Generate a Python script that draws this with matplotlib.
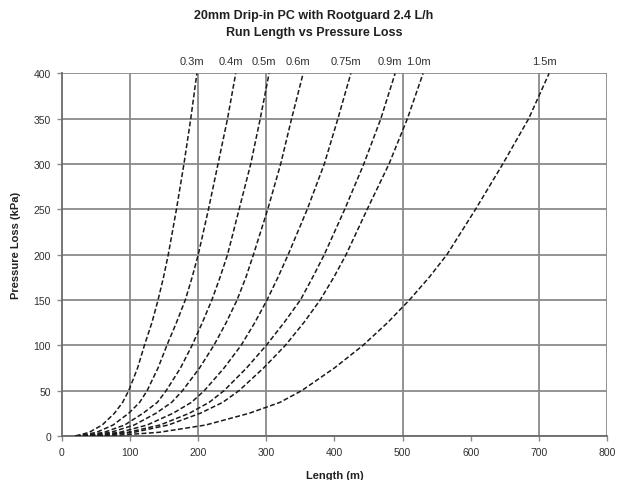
import matplotlib
matplotlib.use("Agg")
import matplotlib.pyplot as plt

plt.rcParams['font.family'] = ['Liberation Sans', 'DejaVu Sans']

# pressure loss levels (kPa), shared by all curves
pressure = [0, 1, 4, 12, 25, 37, 50, 75, 100, 125, 150, 175, 200, 250, 300, 350, 400]

# run length (m) at each pressure level, one list per emitter spacing
len_03 = [20, 26, 40, 59, 77, 89, 98, 111, 121, 132, 141, 149, 156, 168, 179, 189, 198]
len_04 = [20, 32, 51, 75, 98, 114, 125, 141, 154, 168, 181, 191, 200, 215, 229, 243, 255]
len_05 = [20, 38, 62, 92, 119, 140, 153, 174, 191, 206, 220, 232, 243, 260, 277, 291, 304]
len_06 = [20, 44, 72, 106, 138, 161, 177, 202, 223, 241, 257, 270, 281, 302, 321, 337, 354]
len_075 = [20, 52, 85, 125, 163, 190, 209, 238, 263, 283, 301, 317, 332, 360, 385, 405, 424]
len_09 = [20, 59, 97, 144, 187, 216, 238, 271, 300, 326, 350, 368, 385, 415, 443, 468, 489]
len_10 = [20, 64, 106, 156, 203, 236, 260, 296, 328, 355, 379, 399, 417, 448, 480, 507, 530]
len_15 = [20, 87, 143, 211, 275, 320, 352, 400, 442, 478, 510, 539, 565, 607, 647, 685, 715]

spacings = ['0.3m', '0.4m', '0.5m', '0.6m', '0.75m', '0.9m', '1.0m', '1.5m']
lengths = [len_03, len_04, len_05, len_06, len_075, len_09, len_10, len_15]

x_ticks = [0, 100, 200, 300, 400, 500, 600, 700, 800]
y_ticks = [0, 50, 100, 150, 200, 250, 300, 350, 400]
x_grid = [100, 200, 300, 500, 700, 800]

grid_col = '#8a8a8a'
txt_col = '#303030'

fig = plt.figure(figsize=(6.23, 4.81), dpi=100)
ax = fig.add_axes([0.0995, 0.0917, 0.8748, 0.7536])

# grid (the original has no vertical line at 400 and 600)
for y in y_ticks:
    ax.axhline(y, color=grid_col, lw=1.3, zorder=1)
for x in x_grid:
    ax.axvline(x, color=grid_col, lw=1.3, zorder=1)

for lab, L in zip(spacings, lengths):
    ax.plot(L, pressure, color='#1a1a1a', lw=1.1, ls=(0, (3.2, 1.6)), zorder=3)
    ax.annotate(lab, xy=(L[-1], pressure[-1]), xytext=(-3.5, 9),
                textcoords='offset points', ha='center', va='center',
                fontsize=8, color=txt_col, annotation_clip=False)

ax.set_xlim(0, 800)
ax.set_ylim(0, 400)
ax.set_xticks(x_ticks)
ax.set_yticks(y_ticks)
ax.tick_params(direction='out', length=3.5, width=1, color=grid_col,
               labelsize=7.5, labelcolor=txt_col, pad=4.5)
for side in ['top', 'right']:
    ax.spines[side].set_visible(False)
for side in ['left', 'bottom']:
    ax.spines[side].set_color('#6a6a6a')
    ax.spines[side].set_linewidth(1.3)

fig.text(0.503, 1 - 16 / 481, '20mm Drip-in PC with Rootguard 2.4 L/h',
         ha='center', va='center', fontsize=9, fontweight='bold', color='#202020')
fig.text(0.505, 1 - 33 / 481, 'Run Length vs Pressure Loss',
         ha='center', va='center', fontsize=9, fontweight='bold', color='#202020')
fig.text(335 / 623, 1 - 476 / 481, 'Length (m)', ha='center', va='center',
         fontsize=8, fontweight='bold', color='#202020')
fig.text(16 / 623, 1 - 245 / 481, 'Pressure Loss (kPa)', ha='center', va='center',
         rotation=90, fontsize=8, fontweight='bold', color='#202020')

fig.savefig('out.png', dpi=100)
